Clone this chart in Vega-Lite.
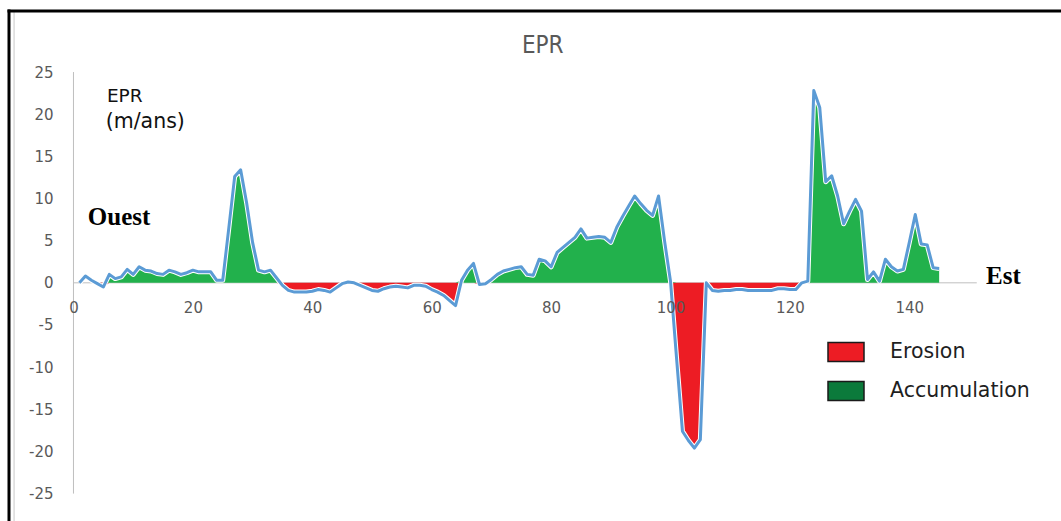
{
  "$schema": "https://vega.github.io/schema/vega-lite/v6.json",
  "width": 1052,
  "height": 510,
  "autosize": {"type": "none"},
  "padding": {"left": 9, "top": 11, "right": 0, "bottom": 0},
  "background": "white",
  "config": {
    "view": {"stroke": null},
    "axis": {"grid": false, "domain": false, "ticks": false, "tickSize": 0, "labelFont": "DejaVu Sans", "labelFontSize": 15, "labelColor": "#595959", "title": null}
  },
  "datasets": {
    "epr": [
      {"x":1,"epr":0,"acc":0,"ero":0},{"x":2,"epr":0.8,"acc":0,"ero":0},{"x":3,"epr":0.3,"acc":0,"ero":0},{"x":4,"epr":-0.1,"acc":0,"ero":-0.1},{"x":5,"epr":-0.5,"acc":0,"ero":-0.5},
      {"x":6,"epr":1.0,"acc":1.0,"ero":0},{"x":7,"epr":0.5,"acc":0.5,"ero":0},{"x":8,"epr":0.7,"acc":0.7,"ero":0},{"x":9,"epr":1.6,"acc":1.6,"ero":0},{"x":10,"epr":1.0,"acc":1.0,"ero":0},
      {"x":11,"epr":1.9,"acc":1.9,"ero":0},{"x":12,"epr":1.5,"acc":1.5,"ero":0},{"x":13,"epr":1.4,"acc":1.4,"ero":0},{"x":14,"epr":1.1,"acc":1.1,"ero":0},{"x":15,"epr":1.0,"acc":1.0,"ero":0},
      {"x":16,"epr":1.5,"acc":1.5,"ero":0},{"x":17,"epr":1.3,"acc":1.3,"ero":0},{"x":18,"epr":1.0,"acc":1.0,"ero":0},{"x":19,"epr":1.2,"acc":1.2,"ero":0},{"x":20,"epr":1.5,"acc":1.5,"ero":0},
      {"x":21,"epr":1.3,"acc":1.3,"ero":0},{"x":22,"epr":1.3,"acc":1.3,"ero":0},{"x":23,"epr":1.3,"acc":1.3,"ero":0},{"x":24,"epr":0.3,"acc":0.3,"ero":0},{"x":25,"epr":0.3,"acc":0.3,"ero":0},
      {"x":26,"epr":6.4,"acc":6.4,"ero":0},{"x":27,"epr":12.6,"acc":12.6,"ero":0},{"x":28,"epr":13.4,"acc":13.4,"ero":0},{"x":29,"epr":9.5,"acc":9.5,"ero":0},{"x":30,"epr":4.8,"acc":4.8,"ero":0},
      {"x":31,"epr":1.5,"acc":1.5,"ero":0},{"x":32,"epr":1.3,"acc":1.3,"ero":0},{"x":33,"epr":1.5,"acc":1.5,"ero":0},{"x":34,"epr":0.6,"acc":0.6,"ero":0},{"x":35,"epr":-0.3,"acc":0,"ero":-0.3},
      {"x":36,"epr":-0.9,"acc":0,"ero":-0.9},{"x":37,"epr":-1.1,"acc":0,"ero":-1.1},{"x":38,"epr":-1.1,"acc":0,"ero":-1.1},{"x":39,"epr":-1.1,"acc":0,"ero":-1.1},{"x":40,"epr":-1.0,"acc":0,"ero":-1.0},
      {"x":41,"epr":-0.8,"acc":0,"ero":-0.8},{"x":42,"epr":-0.9,"acc":0,"ero":-0.9},{"x":43,"epr":-1.1,"acc":0,"ero":-1.1},{"x":44,"epr":-0.6,"acc":0,"ero":-0.6},{"x":45,"epr":-0.1,"acc":0,"ero":-0.1},
      {"x":46,"epr":0.1,"acc":0,"ero":0},{"x":47,"epr":0.0,"acc":0,"ero":0},{"x":48,"epr":-0.3,"acc":0,"ero":-0.3},{"x":49,"epr":-0.6,"acc":0,"ero":-0.6},{"x":50,"epr":-0.9,"acc":0,"ero":-0.9},
      {"x":51,"epr":-1.0,"acc":0,"ero":-1.0},{"x":52,"epr":-0.7,"acc":0,"ero":-0.7},{"x":53,"epr":-0.5,"acc":0,"ero":-0.5},{"x":54,"epr":-0.4,"acc":0,"ero":-0.4},{"x":55,"epr":-0.5,"acc":0,"ero":-0.5},
      {"x":56,"epr":-0.6,"acc":0,"ero":-0.6},{"x":57,"epr":-0.3,"acc":0,"ero":-0.3},{"x":58,"epr":-0.3,"acc":0,"ero":-0.3},{"x":59,"epr":-0.4,"acc":0,"ero":-0.4},{"x":60,"epr":-0.8,"acc":0,"ero":-0.8},
      {"x":61,"epr":-1.1,"acc":0,"ero":-1.1},{"x":62,"epr":-1.5,"acc":0,"ero":-1.5},{"x":63,"epr":-2.1,"acc":0,"ero":-2.1},{"x":64,"epr":-2.7,"acc":0,"ero":-2.7},{"x":65,"epr":0.3,"acc":0.3,"ero":0},
      {"x":66,"epr":1.5,"acc":1.5,"ero":0},{"x":67,"epr":2.3,"acc":2.3,"ero":0},{"x":68,"epr":-0.2,"acc":0,"ero":-0.2},{"x":69,"epr":-0.1,"acc":0,"ero":-0.1},{"x":70,"epr":0.4,"acc":0.4,"ero":0},
      {"x":71,"epr":1.0,"acc":1.0,"ero":0},{"x":72,"epr":1.4,"acc":1.4,"ero":0},{"x":73,"epr":1.6,"acc":1.6,"ero":0},{"x":74,"epr":1.8,"acc":1.8,"ero":0},{"x":75,"epr":1.9,"acc":1.9,"ero":0},
      {"x":76,"epr":1.0,"acc":1.0,"ero":0},{"x":77,"epr":0.9,"acc":0.9,"ero":0},{"x":78,"epr":2.8,"acc":2.8,"ero":0},{"x":79,"epr":2.6,"acc":2.6,"ero":0},{"x":80,"epr":1.9,"acc":1.9,"ero":0},
      {"x":81,"epr":3.6,"acc":3.6,"ero":0},{"x":82,"epr":4.2,"acc":4.2,"ero":0},{"x":83,"epr":4.8,"acc":4.8,"ero":0},{"x":84,"epr":5.4,"acc":5.4,"ero":0},{"x":85,"epr":6.4,"acc":6.4,"ero":0},
      {"x":86,"epr":5.3,"acc":5.3,"ero":0},{"x":87,"epr":5.4,"acc":5.4,"ero":0},{"x":88,"epr":5.5,"acc":5.5,"ero":0},{"x":89,"epr":5.4,"acc":5.4,"ero":0},{"x":90,"epr":4.8,"acc":4.8,"ero":0},
      {"x":91,"epr":6.6,"acc":6.6,"ero":0},{"x":92,"epr":7.9,"acc":7.9,"ero":0},{"x":93,"epr":9.1,"acc":9.1,"ero":0},{"x":94,"epr":10.3,"acc":10.3,"ero":0},{"x":95,"epr":9.4,"acc":9.4,"ero":0},
      {"x":96,"epr":8.6,"acc":8.6,"ero":0},{"x":97,"epr":8.0,"acc":8.0,"ero":0},{"x":98,"epr":10.3,"acc":10.3,"ero":0},{"x":99,"epr":5.0,"acc":5.0,"ero":0},{"x":100,"epr":0.2,"acc":0.2,"ero":0},
      {"x":101,"epr":-8.8,"acc":0,"ero":-8.8},{"x":102,"epr":-17.6,"acc":0,"ero":-17.6},{"x":103,"epr":-18.7,"acc":0,"ero":-18.7},{"x":104,"epr":-19.6,"acc":0,"ero":-19.6},{"x":105,"epr":-18.6,"acc":0,"ero":-18.6},
      {"x":106,"epr":0,"acc":0,"ero":0},{"x":107,"epr":-0.9,"acc":0,"ero":-0.9},{"x":108,"epr":-1.0,"acc":0,"ero":-1.0},{"x":109,"epr":-0.9,"acc":0,"ero":-0.9},{"x":110,"epr":-0.9,"acc":0,"ero":-0.9},
      {"x":111,"epr":-0.8,"acc":0,"ero":-0.8},{"x":112,"epr":-0.8,"acc":0,"ero":-0.8},{"x":113,"epr":-0.9,"acc":0,"ero":-0.9},{"x":114,"epr":-0.9,"acc":0,"ero":-0.9},{"x":115,"epr":-0.9,"acc":0,"ero":-0.9},
      {"x":116,"epr":-0.9,"acc":0,"ero":-0.9},{"x":117,"epr":-0.9,"acc":0,"ero":-0.9},{"x":118,"epr":-0.7,"acc":0,"ero":-0.7},{"x":119,"epr":-0.7,"acc":0,"ero":-0.7},{"x":120,"epr":-0.8,"acc":0,"ero":-0.8},
      {"x":121,"epr":-0.8,"acc":0,"ero":-0.4},{"x":122,"epr":0,"acc":0,"ero":0},{"x":123,"epr":0.2,"acc":0,"ero":0},{"x":124,"epr":22.8,"acc":22.8,"ero":0},{"x":125,"epr":20.8,"acc":20.8,"ero":0},
      {"x":126,"epr":12.0,"acc":12.0,"ero":0},{"x":127,"epr":12.7,"acc":12.7,"ero":0},{"x":128,"epr":10.3,"acc":10.3,"ero":0},{"x":129,"epr":7.0,"acc":7.0,"ero":0},{"x":130,"epr":8.5,"acc":8.5,"ero":0},
      {"x":131,"epr":9.9,"acc":9.9,"ero":0},{"x":132,"epr":8.5,"acc":8.5,"ero":0},{"x":133,"epr":0.4,"acc":0.4,"ero":0},{"x":134,"epr":1.3,"acc":1.3,"ero":0},{"x":135,"epr":0.2,"acc":0.2,"ero":0},
      {"x":136,"epr":2.8,"acc":2.8,"ero":0},{"x":137,"epr":1.9,"acc":1.9,"ero":0},{"x":138,"epr":1.4,"acc":1.4,"ero":0},{"x":139,"epr":1.6,"acc":1.6,"ero":0},{"x":140,"epr":4.8,"acc":4.8,"ero":0},
      {"x":141,"epr":8.1,"acc":8.1,"ero":0},{"x":142,"epr":4.6,"acc":4.6,"ero":0},{"x":143,"epr":4.5,"acc":4.5,"ero":0},{"x":144,"epr":1.8,"acc":1.8,"ero":0},{"x":145,"epr":1.7,"acc":1.7,"ero":0}
    ]
  },
  "data": {"name": "epr"},
  "layer": [
    {
      "data": {"values": [{}]},
      "mark": {"type": "rule", "color": "#BFBFBF", "strokeWidth": 1},
      "encoding": {
        "x": {"datum": 0, "type": "quantitative", "scale": {"domain": [-10.8, 165.41], "nice": false, "zero": false},
              "axis": {"values": [0, 20, 40, 60, 80, 100, 120, 140], "orient": "bottom", "offset": -221, "labelPadding": 0, "labelBaseline": "top", "zindex": 1, "title": null}},
        "y": {"datum": -25, "type": "quantitative", "scale": {"domain": [-28.25, 32.24], "nice": false, "zero": false},
              "axis": {"values": [-25, -20, -15, -10, -5, 0, 5, 10, 15, 20, 25], "orient": "left", "offset": -44, "labelPadding": 0, "labelBaseline": "middle", "labelExpr": "toString(datum.value)", "title": null}},
        "y2": {"datum": 25}
      }
    },
    {
      "data": {"values": [{}]},
      "mark": {"type": "rule", "color": "#BFBFBF", "strokeWidth": 1},
      "encoding": {
        "x": {"datum": 0, "type": "quantitative"},
        "x2": {"datum": 151.3},
        "y": {"datum": 0, "type": "quantitative"}
      }
    },
    {
      "data": {"values": [{}]},
      "mark": {"type": "rule", "color": "#C8C8C8", "strokeWidth": 1},
      "encoding": {
        "x": {"datum": -9.95, "type": "quantitative"},
        "y": {"datum": -28.25, "type": "quantitative"},
        "y2": {"datum": 32.24}
      }
    },
    {
      "data": {"values": [{}]},
      "mark": {"type": "rule", "color": "#000000", "strokeWidth": 3},
      "encoding": {
        "x": {"datum": -10.8, "type": "quantitative"},
        "y": {"datum": -28.25, "type": "quantitative"},
        "y2": {"datum": 32.42}
      }
    },
    {
      "data": {"values": [{}]},
      "mark": {"type": "rule", "color": "#000000", "strokeWidth": 3},
      "encoding": {
        "x": {"datum": -11.05, "type": "quantitative"},
        "x2": {"datum": 165.41},
        "y": {"datum": 32.24, "type": "quantitative"}
      }
    },
    {
      "mark": {"type": "area", "opacity": 1},
      "encoding": {
        "x": {"field": "x", "type": "quantitative"},
        "y": {"field": "ero", "type": "quantitative"},
        "y2": {"datum": 0},
        "color": {"datum": "Erosion", "type": "nominal",
          "scale": {"domain": ["Erosion", "Accumulation"], "range": ["#ED1C24", "#0B7A3B"]},
          "legend": {"title": null, "orient": "none", "legendX": 818, "legendY": 322, "padding": 0,
            "symbolType": "M-1,-0.53H1V0.53H-1Z", "symbolSize": 1296, "symbolStrokeColor": "#1a1a1a", "symbolStrokeWidth": 1.5, "symbolOpacity": 1,
            "labelFont": "DejaVu Sans", "labelFontSize": 20.5, "labelColor": "#1f1f1f", "labelOffset": 25, "rowPadding": 7, "direction": "vertical"}}
      }
    },
    {
      "mark": {"type": "area", "opacity": 1, "color": "#22B14C"},
      "encoding": {
        "x": {"field": "x", "type": "quantitative"},
        "y": {"field": "acc", "type": "quantitative"},
        "y2": {"datum": 0}
      }
    },
    {
      "mark": {"type": "line", "color": "#FFFFFF", "strokeWidth": 5, "strokeJoin": "round"},
      "encoding": {
        "x": {"field": "x", "type": "quantitative"},
        "y": {"field": "epr", "type": "quantitative"}
      }
    },
    {
      "mark": {"type": "line", "color": "#5B9BD5", "strokeWidth": 3, "strokeJoin": "round"},
      "encoding": {
        "x": {"field": "x", "type": "quantitative"},
        "y": {"field": "epr", "type": "quantitative"}
      }
    },
    {
      "data": {"values": [{}]},
      "mark": {"type": "text", "text": "EPR", "font": "Liberation Sans Narrow, DejaVu Sans Condensed, sans-serif", "fontSize": 24, "color": "#595959", "align": "center", "baseline": "middle"},
      "encoding": {"x": {"datum": 78.6, "type": "quantitative"}, "y": {"datum": 28.1, "type": "quantitative"}}
    },
    {
      "data": {"values": [{}]},
      "mark": {"type": "text", "text": "EPR", "font": "DejaVu Sans", "fontSize": 18.5, "color": "#111111", "align": "left", "baseline": "alphabetic"},
      "encoding": {"x": {"datum": 5.6, "type": "quantitative"}, "y": {"datum": 21.45, "type": "quantitative"}}
    },
    {
      "data": {"values": [{}]},
      "mark": {"type": "text", "text": "(m/ans)", "font": "DejaVu Sans", "fontSize": 20.5, "color": "#111111", "align": "left", "baseline": "alphabetic"},
      "encoding": {"x": {"datum": 5.4, "type": "quantitative"}, "y": {"datum": 18.4, "type": "quantitative"}}
    },
    {
      "data": {"values": [{}]},
      "mark": {"type": "text", "text": "Ouest", "font": "Liberation Serif", "fontWeight": "bold", "fontSize": 25, "color": "#000000", "align": "left", "baseline": "alphabetic"},
      "encoding": {"x": {"datum": 2.4, "type": "quantitative"}, "y": {"datum": 6.86, "type": "quantitative"}}
    },
    {
      "data": {"values": [{}]},
      "mark": {"type": "text", "text": "Est", "font": "Liberation Serif", "fontWeight": "bold", "fontSize": 25, "color": "#000000", "align": "left", "baseline": "alphabetic"},
      "encoding": {"x": {"datum": 152.85, "type": "quantitative"}, "y": {"datum": -0.18, "type": "quantitative"}}
    }
  ]
}
